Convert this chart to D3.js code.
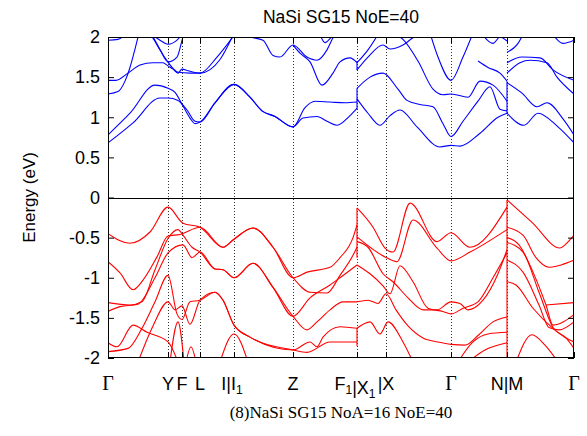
<!DOCTYPE html>
<html><head><meta charset="utf-8">
<script src="https://cdn.jsdelivr.net/npm/d3@7"></script>
<style>body{margin:0;background:#fff}svg{display:block}</style>
</head><body><svg id="c" width="587" height="436"></svg>
<script>
const titleText = "NaSi SG15 NoE=40";
const captionText = "(8)NaSi SG15 NoA=16 NoE=40";
const yLabelText = "Energy (eV)";
const kTicks = [0, 0.60, 0.74, 0.92, 1.26, 1.85, 2.49, 2.78, 3.43, 3.99, 4.66];
const kLabels = ["Γ", "Y", "F", "L", "I|I_1", "Z", "F_1|X_1", "|X", "Γ", "N|M", "Γ"];
const kLabelShift = [0, 0, 0, 0, -2, 0, -2, 0, 0, 0, 0];
const yTicks = [-2, -1.5, -1, -0.5, 0, 0.5, 1, 1.5, 2];
const yTickLabels = ["-2", "-1.5", "-1", "-0.5", "0", "0.5", "1", "1.5", "2"];

const conductionBands = [
 [[0,0.68],[0.25,0.93],[0.52,1.24],[0.60,1.24],[0.70,1.21],[0.79,1.09],[0.87,0.95],[0.92,0.94],[1.07,1.18],[1.26,1.41],[1.42,1.25],[1.54,1.08],[1.67,1.01],[1.85,0.88],[1.97,1.12],[2.07,1.20],[2.22,1.19],[2.37,1.18],[2.49,1.19]],
 [[0,0.78],[0.22,1.05],[0.47,1.40],[0.60,1.36],[0.67,1.31],[0.75,1.14],[0.82,0.99],[0.87,0.92],[0.92,0.94],[1.07,1.18],[1.26,1.41],[1.42,1.25],[1.54,1.08],[1.67,1.01],[1.85,0.88],[1.95,0.99],[2.09,1.01],[2.19,0.95],[2.29,0.90],[2.42,1.02],[2.49,1.11]],
 [[0,1.46],[0.08,1.46],[0.20,1.55],[0.32,1.65],[0.45,1.68],[0.55,1.68],[0.60,1.64],[0.65,1.60],[0.70,1.55],[0.74,1.60],[0.80,1.58],[0.92,1.55],[1.09,1.75],[1.26,2.02]],
 [[0,1.29],[0.10,1.32],[0.17,1.45],[0.22,1.62],[0.27,1.85],[0.31,2.05]],
 [[0,1.96],[0.10,1.97],[0.17,2.03]],
 [[0.40,2.05],[0.44,2.0],[0.52,1.84],[0.60,1.69],[0.69,1.75],[0.75,2.0],[0.78,2.1]],
 [[0.40,2.1],[0.45,2.0],[0.57,1.74],[0.65,1.61],[0.70,1.56],[0.82,1.55],[0.92,1.55],[1.12,1.72],[1.25,2.02]],
 [[0.45,2.02],[0.52,1.96],[0.60,1.91],[0.69,1.96],[0.73,2.02]],
 [[1.35,2.03],[1.42,2.0],[1.55,1.96],[1.65,1.77],[1.72,1.75],[1.85,1.90],[1.99,1.75],[2.09,1.71],[2.19,1.84],[2.25,1.99],[2.28,2.05]],
 [[1.85,1.90],[1.92,1.80],[2.02,1.69],[2.14,1.40],[2.25,1.55],[2.32,1.69],[2.42,1.74],[2.49,1.68]],
 [[2.12,2.03],[2.17,1.93],[2.22,1.98],[2.25,2.03]],
 [[2.49,1.23],[2.60,1.05],[2.72,0.90],[2.82,1.02],[2.92,1.09],[3.09,0.88],[3.32,0.63],[3.43,0.65],[3.52,0.64],[3.72,0.80],[3.90,1.00],[3.99,1.05]],
 [[2.49,1.36],[2.62,1.50],[2.75,1.55],[2.90,1.35],[2.99,1.21],[3.12,1.16],[3.25,1.13],[3.35,0.92],[3.43,0.76],[3.55,0.95],[3.70,1.20],[3.82,1.38],[3.92,1.10],[3.99,1.08]],
 [[2.85,2.05],[2.95,1.97],[3.10,1.70],[3.25,1.35],[3.35,1.28],[3.43,1.29],[3.60,1.25],[3.72,1.45],[3.85,1.40],[3.99,1.20]],
 [[3.22,2.05],[3.30,1.75],[3.43,1.46],[3.55,1.75],[3.65,2.05]],
 [[2.49,1.59],[2.60,1.75],[2.75,1.90],[2.82,1.85],[2.95,1.90],[3.05,1.99],[3.15,2.05]],
 [[2.49,1.68],[2.60,1.84],[2.70,2.03]],
 [[3.75,2.02],[3.85,1.92],[3.92,2.0],[3.99,1.95]],
 [[3.70,1.70],[3.80,1.62],[3.92,1.55],[3.99,1.45]],
 [[3.99,1.68],[4.14,1.75],[4.32,1.74],[4.45,1.59],[4.66,1.46]],
 [[3.99,1.55],[4.12,1.68],[4.22,1.71],[4.39,1.68],[4.49,1.50],[4.66,1.29]],
 [[3.99,1.43],[4.14,1.30],[4.29,1.13],[4.39,1.18],[4.55,0.98],[4.66,0.78]],
 [[3.99,1.05],[4.16,0.90],[4.30,1.05],[4.50,0.88],[4.66,0.68]],
 [[3.99,1.81],[4.10,1.92],[4.15,2.03]],
 [[4.45,2.03],[4.55,1.92],[4.66,1.96]]
];
const conductionJumps = [[2.49,1.10,1.36],[2.49,1.59,1.70],[3.99,1.05,1.45]];

const valenceBands = [
 [[0,-0.45],[0.22,-0.57],[0.42,-0.43],[0.60,-0.12],[0.75,-0.32],[0.92,-0.37],[1.15,-0.62],[1.26,-0.52],[1.45,-0.38],[1.65,-0.62],[1.85,-1.00],[1.99,-0.93],[2.22,-0.87],[2.32,-0.75],[2.45,-0.50],[2.49,-0.34]],
 [[0,-0.80],[0.12,-0.94],[0.25,-1.15],[0.35,-1.03],[0.49,-0.74],[0.60,-0.48],[0.72,-0.46],[0.92,-0.37],[1.15,-0.62],[1.26,-0.52],[1.45,-0.38],[1.65,-0.62],[1.85,-1.00],[2.02,-1.18],[2.19,-1.19],[2.32,-0.97],[2.45,-0.72],[2.49,-0.62]],
 [[0,-1.31],[0.22,-1.34],[0.34,-1.30],[0.47,-0.90],[0.60,-0.51],[0.70,-0.40],[0.75,-0.47],[0.84,-0.62],[0.92,-0.68],[1.07,-0.89],[1.15,-0.90],[1.26,-1.00],[1.45,-0.82],[1.65,-1.12],[1.85,-1.48],[2.02,-1.25],[2.22,-1.09],[2.32,-1.00],[2.49,-0.84]],
 [[0,-1.42],[0.12,-1.36],[0.30,-1.33],[0.47,-1.00],[0.60,-0.69],[0.75,-0.59],[0.84,-0.75],[0.92,-0.68],[1.07,-0.89],[1.15,-0.90],[1.26,-1.00],[1.45,-0.82],[1.65,-1.12],[1.85,-1.48],[1.99,-1.65],[2.09,-1.55],[2.22,-1.40],[2.35,-1.30],[2.49,-1.30]],
 [[0,-1.81],[0.09,-1.86],[0.25,-1.59],[0.39,-1.68],[0.60,-1.80],[0.70,-2.05]],
 [[0,-1.92],[0.20,-1.88],[0.34,-1.63],[0.47,-1.30],[0.60,-0.97],[0.69,-1.45],[0.74,-1.52],[0.82,-1.30],[0.92,-1.28],[1.07,-1.18],[1.15,-1.28],[1.26,-1.59],[1.42,-1.74],[1.85,-1.90],[1.99,-1.93],[2.22,-1.80],[2.49,-1.80]],
 [[0.30,-2.05],[0.45,-1.60],[0.60,-1.30],[0.67,-1.40],[0.74,-1.35],[0.82,-1.58],[0.92,-1.28],[1.07,-1.18],[1.15,-1.28],[1.26,-1.59],[1.42,-1.74],[1.85,-1.90],[2.02,-1.80],[2.09,-1.86],[2.15,-1.74],[2.32,-1.61],[2.49,-1.63]],
 [[0.62,-2.05],[0.70,-1.55],[0.76,-2.05]],
 [[0.78,-2.05],[0.83,-1.86],[0.88,-2.05]],
 [[1.12,-2.05],[1.26,-1.70],[1.40,-2.05]],
 [[2.49,-0.13],[2.65,-0.37],[2.77,-0.63],[2.85,-0.68],[3.02,-0.07],[3.29,-0.55],[3.43,-0.44],[3.62,-0.62],[3.99,-0.12]],
 [[2.49,-0.49],[2.77,-0.74],[2.89,-0.80],[3.05,-0.28],[3.29,-0.63],[3.43,-0.79],[3.62,-0.68],[3.99,-0.40]],
 [[2.49,-0.55],[2.60,-0.62],[2.75,-0.95],[2.85,-1.05],[3.00,-1.25],[3.15,-1.40],[3.29,-1.40],[3.43,-1.30],[3.52,-1.32],[3.60,-1.40],[3.75,-1.28],[3.90,-0.95],[3.99,-0.65]],
 [[2.49,-0.84],[2.62,-0.95],[2.75,-1.10],[2.82,-1.20],[2.92,-0.85],[3.05,-1.05],[3.20,-1.38],[3.35,-1.42],[3.43,-1.45],[3.55,-1.38],[3.70,-1.30],[3.85,-1.00],[3.99,-0.69]],
 [[2.49,-1.30],[2.60,-1.28],[2.70,-1.32],[2.78,-1.20],[2.88,-1.40],[3.00,-1.60],[3.15,-1.75],[3.30,-1.80],[3.43,-1.83],[3.57,-1.84],[3.70,-1.72],[3.85,-1.55],[3.99,-1.49]],
 [[2.49,-1.63],[2.62,-1.55],[2.72,-1.70],[2.80,-1.55],[2.95,-1.80],[3.05,-2.05]],
 [[3.50,-2.05],[3.65,-1.80],[3.80,-1.70],[3.99,-1.68]],
 [[3.60,-2.05],[3.77,-1.90],[3.99,-1.81]],
 [[3.99,-0.03],[4.24,-0.31],[4.52,-0.63],[4.57,-0.59],[4.66,-0.47]],
 [[3.99,-0.37],[4.15,-0.47],[4.28,-0.75],[4.41,-0.87],[4.53,-0.84],[4.66,-0.78]],
 [[3.99,-0.50],[4.11,-0.59],[4.25,-0.93],[4.38,-1.34],[4.45,-1.59],[4.66,-1.46]],
 [[3.99,-0.56],[4.15,-0.68],[4.31,-1.18],[4.45,-1.62],[4.58,-1.75],[4.66,-1.88]],
 [[3.99,-0.78],[4.15,-0.93],[4.31,-1.34],[4.41,-1.62],[4.51,-1.65],[4.66,-1.55]],
 [[3.99,-1.05],[4.08,-1.09],[4.25,-1.38],[4.45,-1.63],[4.58,-1.75],[4.66,-1.80]],
 [[4.38,-1.34],[4.66,-1.31]],
 [[4.08,-2.05],[4.24,-1.71],[4.37,-1.84],[4.50,-2.05]]
];
const valenceJumps = [[2.49,-0.13,-0.75],[2.49,-1.63,-1.85],[3.99,-0.03,-2.0]];

const svg = d3.select("#c");
const W = 587, H = 436;
const m = {left:108, right:574, top:37, bottom:358};
const SANS = "'Liberation Sans', Arial, Helvetica, sans-serif";
const SERIF = "'Liberation Serif', 'Times New Roman', serif";
const x = d3.scaleLinear().domain([kTicks[0], kTicks[kTicks.length-1]]).range([m.left, m.right]);
const y = d3.scaleLinear().domain([-2, 2]).range([m.bottom, m.top]);

svg.append("rect").attr("width",W).attr("height",H).attr("fill","#fff");
svg.append("clipPath").attr("id","clip").append("rect")
  .attr("x",m.left).attr("y",m.top).attr("width",m.right-m.left).attr("height",m.bottom-m.top);

svg.append("g").selectAll("line").data(kTicks.slice(1,-1)).join("line")
  .attr("x1",d=>Math.round(x(d))+0.5).attr("x2",d=>Math.round(x(d))+0.5)
  .attr("y1",m.top).attr("y2",m.bottom)
  .attr("stroke","#333").attr("stroke-width",1).attr("stroke-dasharray","1,2");

svg.append("line").attr("x1",m.left).attr("x2",m.right).attr("y1",Math.round(y(0))+0.5).attr("y2",Math.round(y(0))+0.5)
  .attr("stroke","#000").attr("stroke-width",1);

const line = d3.line().x(d=>x(d[0])).y(d=>y(d[1])).curve(d3.curveMonotoneX);
const plot = svg.append("g").attr("clip-path","url(#clip)");
plot.selectAll("path.cb").data(conductionBands).join("path").attr("class","cb")
  .attr("d",line).attr("fill","none").attr("stroke","#0000ff").attr("stroke-width",1.1);
plot.selectAll("path.vb").data(valenceBands).join("path").attr("class","vb")
  .attr("d",line).attr("fill","none").attr("stroke","#ff0000").attr("stroke-width",1.1);
plot.selectAll("line.cj").data(conductionJumps).join("line").attr("class","cj")
  .attr("x1",d=>x(d[0])).attr("x2",d=>x(d[0])).attr("y1",d=>y(d[1])).attr("y2",d=>y(d[2]))
  .attr("stroke","#0000ff").attr("stroke-width",1.1);
plot.selectAll("line.vj").data(valenceJumps).join("line").attr("class","vj")
  .attr("x1",d=>x(d[0])).attr("x2",d=>x(d[0])).attr("y1",d=>y(d[1])).attr("y2",d=>y(d[2]))
  .attr("stroke","#ff0000").attr("stroke-width",1.1);

svg.append("rect").attr("x",m.left+0.5).attr("y",m.top+0.5).attr("width",m.right-m.left-1).attr("height",m.bottom-m.top-1)
  .attr("fill","none").attr("stroke","#000").attr("stroke-width",1);

const yAxisL = d3.axisLeft(y).tickValues(yTicks).tickSize(-6).tickFormat((d,i)=>yTickLabels[i]).tickPadding(8);
const gy = svg.append("g").attr("transform",`translate(${m.left},0)`).call(yAxisL);
gy.select(".domain").remove();
gy.selectAll("text").attr("font-family",SANS).attr("font-size",18).attr("fill","#000");
const yAxisR = d3.axisRight(y).tickValues(yTicks).tickSize(-6).tickFormat("");
const gyr = svg.append("g").attr("transform",`translate(${m.right},0)`).call(yAxisR);
gyr.select(".domain").remove();

const xAxisB = d3.axisBottom(x).tickValues(kTicks).tickSize(-6).tickFormat("");
const gxb = svg.append("g").attr("transform",`translate(0,${m.bottom})`).call(xAxisB);
gxb.select(".domain").remove();
const xAxisT = d3.axisTop(x).tickValues(kTicks).tickSize(-6).tickFormat("");
const gxt = svg.append("g").attr("transform",`translate(0,${m.top})`).call(xAxisT);
gxt.select(".domain").remove();

const lab = svg.append("g");
kLabels.forEach((s,i)=>{
  const isGamma = s === "Γ";
  const t = lab.append("text").attr("x", x(kTicks[i]) + kLabelShift[i]).attr("y", 390)
    .attr("text-anchor","middle").attr("fill","#000")
    .attr("font-family", isGamma ? SERIF : SANS)
    .attr("font-size", isGamma ? 20 : 18);
  const parts = s.split(/_(\d)/);
  parts.forEach((p,j)=>{
    if (!p) return;
    if (j % 2 === 1) {
      t.append("tspan").attr("font-size",12).attr("dy",4).text(p);
      t.append("tspan").attr("dy",-4).text("");
    } else {
      t.append("tspan").text(p);
    }
  });
});

svg.append("text").attr("x",(m.left+m.right)/2).attr("y",23).attr("text-anchor","middle")
  .attr("font-family",SANS).attr("font-size",17.5).text(titleText);
svg.append("text").attr("transform",`translate(35,${(m.top+m.bottom)/2}) rotate(-90)`).attr("text-anchor","middle")
  .attr("font-family",SANS).attr("font-size",17).text(yLabelText);
svg.append("text").attr("x",(m.left+m.right)/2).attr("y",418).attr("text-anchor","middle")
  .attr("font-family",SERIF).attr("font-size",17).text(captionText);
</script>
</body></html>
